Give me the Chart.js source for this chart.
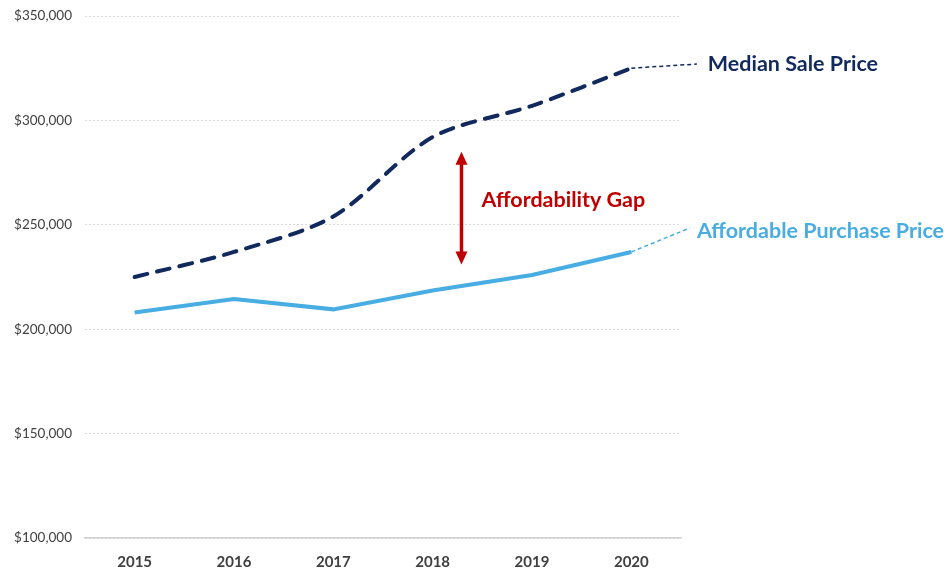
<!DOCTYPE html>
<html>
<head>
<meta charset="utf-8">
<script src="https://cdn.jsdelivr.net/npm/chart.js@4"></script>
<style>
  html, body { margin: 0; padding: 0; background: #fff; }
  #wrap { width: 947px; height: 571px; }
</style>
</head>
<body>
<div id="wrap"><canvas id="gapChart"></canvas></div>
<script>
// Chart data
const years = ['2015', '2016', '2017', '2018', '2019', '2020'];
const medianSalePrice = [225000, 237000, 254000, 292000, 307000, 325000];
const affordablePrice = [208000, 214500, 209500, 218500, 226000, 237000];
const yTicks = [100000, 150000, 200000, 250000, 300000, 350000];

const NAVY = '#12295e';
const SKY = '#48ade2';
const RED = '#c00000';

// Draws the gap arrow, the labels and the little dashed lead-outs
const annotationPlugin = {
    id: 'annotations',
    afterDatasetsDraw(chart) {
        const ctx = chart.ctx;
        const x = chart.scales.x;
        const y = chart.scales.y;
        const step = x.getPixelForValue(1) - x.getPixelForValue(0);
        const last = years.length - 1;

        // lead-out lines from the last points to the labels
        ctx.save();
        ctx.lineWidth = 1.5;
        ctx.setLineDash([4, 3]);
        ctx.strokeStyle = NAVY;
        ctx.beginPath();
        ctx.moveTo(x.getPixelForValue(last), y.getPixelForValue(medianSalePrice[last]));
        ctx.lineTo(x.getPixelForValue(last) + step * 0.66, y.getPixelForValue(327000));
        ctx.stroke();
        ctx.strokeStyle = SKY;
        ctx.beginPath();
        ctx.moveTo(x.getPixelForValue(last), y.getPixelForValue(affordablePrice[last]));
        ctx.lineTo(x.getPixelForValue(last) + step * 0.59, y.getPixelForValue(248500));
        ctx.stroke();
        ctx.restore();

        // double-headed arrow
        const ax = x.getPixelForValue(3) + step * 0.29;
        const top = y.getPixelForValue(285000);
        const bottom = y.getPixelForValue(231000);
        ctx.save();
        ctx.strokeStyle = RED;
        ctx.fillStyle = RED;
        ctx.lineWidth = 3.5;
        ctx.beginPath();
        ctx.moveTo(ax, top + 10);
        ctx.lineTo(ax, bottom - 10);
        ctx.stroke();
        ctx.beginPath();
        ctx.moveTo(ax, top);
        ctx.lineTo(ax - 6, top + 13);
        ctx.lineTo(ax + 6, top + 13);
        ctx.closePath();
        ctx.fill();
        ctx.beginPath();
        ctx.moveTo(ax, bottom);
        ctx.lineTo(ax - 6, bottom - 13);
        ctx.lineTo(ax + 6, bottom - 13);
        ctx.closePath();
        ctx.fill();

        // labels
        ctx.textBaseline = 'middle';
        ctx.textAlign = 'left';
        ctx.font = 'bold 21.5px Lato';
        ctx.fillText('Affordability Gap', ax + 20, y.getPixelForValue(262000));
        ctx.fillStyle = NAVY;
        ctx.fillText('Median Sale Price', x.getPixelForValue(last) + step * 0.77, y.getPixelForValue(327000));
        ctx.fillStyle = SKY;
        ctx.fillText('Affordable Purchase Price', x.getPixelForValue(last) + step * 0.66, y.getPixelForValue(247000));
        ctx.restore();
    }
};

const ctx = document.getElementById('gapChart').getContext('2d');
new Chart(ctx, {
    type: 'line',
    data: {
        labels: years,
        datasets: [
            {
                label: 'Median Sale Price',
                data: medianSalePrice,
                borderColor: NAVY,
                borderWidth: 4,
                borderDash: [13, 10],
                borderCapStyle: 'round',
                tension: 0.3,
                pointRadius: 0
            },
            {
                label: 'Affordable Purchase Price',
                data: affordablePrice,
                borderColor: SKY,
                borderWidth: 4,
                tension: 0,
                pointRadius: 0
            }
        ]
    },
    options: {
        responsive: true,
        maintainAspectRatio: false,
        animation: false,
        layout: { padding: { top: 16, right: 266, left: 0, bottom: 0 } },
        plugins: {
            legend: { display: false },
            tooltip: { enabled: false }
        },
        scales: {
            x: {
                offset: true,
                grid: { display: false, drawTicks: false },
                border: { display: true, color: '#d0d0d0', width: 1.5 },
                ticks: {
                    padding: 15,
                    color: '#404040',
                    font: { family: 'Lato', size: 15, weight: 'bold' }
                },
                afterFit(scale) { scale.height = 33; }
            },
            y: {
                min: 100000,
                max: 350000,
                afterBuildTicks(scale) {
                    scale.ticks = yTicks.map(v => ({ value: v }));
                },
                grid: {
                    color: '#d9d9d9',
                    drawTicks: false
                },
                border: { display: false, dash: [2, 2] },
                ticks: {
                    padding: 13,
                    color: '#404040',
                    font: { family: 'Lato', size: 13.5 },
                    callback: v => '$' + v.toLocaleString('en-US')
                },
                afterFit(scale) {
                    scale.width = 85;
                    scale.paddingTop = 0;
                    scale.paddingBottom = 0;
                }
            }
        }
    },
    plugins: [annotationPlugin]
});
</script>
</body>
</html>
